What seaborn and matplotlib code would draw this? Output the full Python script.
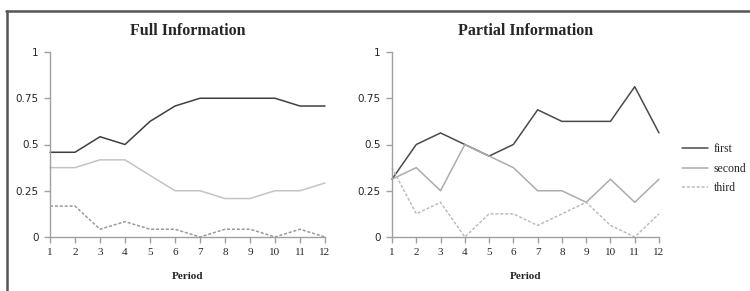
import seaborn as sns
import matplotlib.pyplot as plt
import pandas as pd
from matplotlib.lines import Line2D

sns.set_theme(style="white")
plt.rcParams['font.family'] = ['Liberation Serif', 'DejaVu Serif']

periods = list(range(1, 13))

# 全情報
full_first = [0.458, 0.458, 0.542, 0.5, 0.625, 0.708, 0.75, 0.75, 0.75, 0.75, 0.708, 0.708]
full_second = [0.375, 0.375, 0.417, 0.417, 0.333, 0.25, 0.25, 0.208, 0.208, 0.25, 0.25, 0.292]
full_third = [0.167, 0.167, 0.042, 0.083, 0.042, 0.042, 0.0, 0.042, 0.042, 0.0, 0.042, 0.0]

# 部分情報
part_first = [0.3125, 0.5, 0.5625, 0.5, 0.4375, 0.5, 0.6875, 0.625, 0.625, 0.625, 0.8125, 0.5625]
part_second = [0.3125, 0.375, 0.25, 0.5, 0.4375, 0.375, 0.25, 0.25, 0.1875, 0.3125, 0.1875, 0.3125]
part_third = [0.375, 0.125, 0.1875, 0.0, 0.125, 0.125, 0.0625, 0.125, 0.1875, 0.0625, 0.0, 0.125]

ranks = ["first", "second", "third"]
yticks = [0, 0.25, 0.5, 0.75, 1]
ytick_labels = ["0", "0.25", "0.5", "0.75", "1"]


def make_df(first, second, third):
    rows = []
    for name, vals in zip(ranks, [first, second, third]):
        for p, v in zip(periods, vals):
            rows.append({"Period": p, "share": v, "rank": name})
    return pd.DataFrame(rows)


palettes = [
    {"first": "#3f3f3f", "second": "#c4c4c4", "third": "#9a9a9a"},
    {"first": "#4a4a4a", "second": "#acacac", "third": "#bdbdbd"},
]
dashes = {"first": "", "second": "", "third": (2, 1.2)}

fig = plt.figure(figsize=(7.5, 2.91), dpi=100)
ax1 = fig.add_axes([50 / 750, 1 - 237 / 291, 275 / 750, 185 / 291])
ax2 = fig.add_axes([392 / 750, 1 - 237 / 291, 267 / 750, 185 / 291])

datas = [make_df(full_first, full_second, full_third),
         make_df(part_first, part_second, part_third)]
titles = ["Full Information", "Partial Information"]

for ax, df, title, pal in zip([ax1, ax2], datas, titles, palettes):
    sns.lineplot(data=df, x="Period", y="share", hue="rank", style="rank",
                 palette=pal, dashes=dashes, linewidth=1.1, ax=ax,
                 legend=(ax is ax2))
    ax.set_xlim(1, 12)
    ax.set_ylim(0, 1)
    ax.set_xticks(periods)
    ax.set_xticklabels([str(p) for p in periods], fontsize=8)
    ax.set_yticks(yticks)
    ax.set_yticklabels(ytick_labels, fontsize=7.5, family='DejaVu Sans')
    ax.set_ylabel("")
    ax.set_xlabel("Period", fontsize=8, fontweight="bold", labelpad=11)
    ax.set_title(title, fontsize=11.5, fontweight="bold", pad=12)
    for s in ["top", "right"]:
        ax.spines[s].set_visible(False)
    for s in ["left", "bottom"]:
        ax.spines[s].set_color("#a0a0a0")
        ax.spines[s].set_linewidth(1.0)
    ax.tick_params(axis="both", which="both", direction="out", length=4,
                   width=1.0, color="#a0a0a0", pad=4, left=True, bottom=True)
    for ln in ax.get_lines():
        ln.set_clip_on(False)

leg = ax2.legend(loc="upper left", bbox_to_anchor=(682 / 750, 1 - 143 / 291),
                 bbox_transform=fig.transFigure, frameon=False,
                 fontsize=8.5, handlelength=2.2, handletextpad=0.5,
                 labelspacing=0.65, borderpad=0, borderaxespad=0, title=None)

# 外枠
fig.add_artist(Line2D([6 / 750, 1.0], [1 - 10.5 / 291, 1 - 10.5 / 291],
                      color="#555555", linewidth=1.8))
fig.add_artist(Line2D([6.5 / 750, 6.5 / 750], [0, 1 - 10.5 / 291],
                      color="#555555", linewidth=1.8))

fig.savefig("out.png", dpi=100)
plt.close(fig)
